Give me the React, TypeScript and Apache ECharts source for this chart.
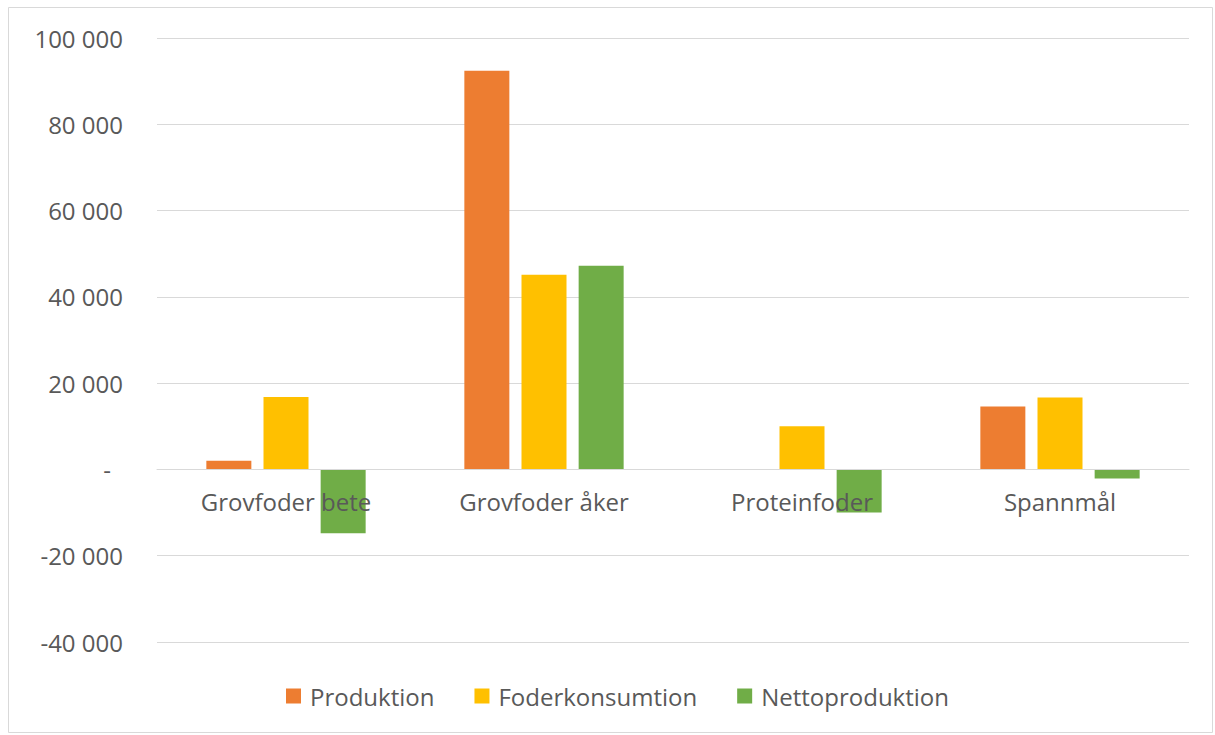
import React, { useEffect, useRef } from "react";
import * as echarts from "echarts";

const categories = ["Grovfoder bete", "Grovfoder åker", "Proteinfoder", "Spannmål"];
const produktion = [2000, 92400, 0, 14600];
const foderkonsumtion = [16800, 45100, 10000, 16700];
const nettoproduktion = [-14800, 47200, -10000, -2100];
const seriesNames = ["Produktion", "Foderkonsumtion", "Nettoproduktion"];
const colors = ["#ED7D31", "#FFC000", "#70AD47"];
const yMin = -40000;
const yMax = 100000;
const yStep = 20000;

const FONT = "Open Sans";
const TEXT = "#595959";
const GRID_TOP = 38;
const GRID_BOTTOM = 93;
const H = 735;

function fmt(v: number): string {
  if (v === 0) return "{z|-}";
  const s = Math.abs(v).toString().replace(/\B(?=(\d{3})+(?!\d))/g, " ");
  return (v < 0 ? "-" : "") + s;
}

export default function App() {
  const ref = useRef<HTMLDivElement>(null);
  useEffect(() => {
    if (!ref.current) return;
    const chart = echarts.init(ref.current, null, { renderer: "svg" });
    const data = [produktion, foderkonsumtion, nettoproduktion];
    const gridH = H - GRID_TOP - GRID_BOTTOM;
    const zeroOffset = -((0 - yMin) / (yMax - yMin)) * gridH;
    chart.setOption({
      animation: false,
      backgroundColor: "#ffffff",
      textStyle: { fontFamily: FONT },
      graphic: [
        {
          type: "rect",
          shape: { x: 8.5, y: 7.5, width: 1204, height: 725 },
          style: { fill: "none", stroke: "#d9d9d9", lineWidth: 1 },
          silent: true,
        },
      ],
      grid: { left: 157, right: 26, top: GRID_TOP, bottom: GRID_BOTTOM, containLabel: false },
      legend: {
        top: 684,
        left: 286,
        padding: 0,
        itemWidth: 15,
        itemHeight: 15,
        itemGap: 40,
        icon: "rect",
        textStyle: { fontFamily: FONT, fontSize: 24, color: TEXT, padding: [0, 0, 0, 4] },
        data: seriesNames,
      },
      xAxis: {
        type: "category",
        data: categories,
        position: "bottom",
        offset: zeroOffset,
        axisLine: { onZero: false, lineStyle: { color: "#d9d9d9", width: 1 } },
        axisTick: { show: false },
        axisLabel: { fontFamily: FONT, fontSize: 24, color: TEXT, margin: 20 },
        z: 5,
      },
      yAxis: {
        type: "value",
        min: yMin,
        max: yMax,
        interval: yStep,
        axisLine: { show: false },
        axisTick: { show: false },
        splitLine: { lineStyle: { color: "#d9d9d9", width: 1 } },
        axisLabel: {
          fontFamily: FONT,
          fontSize: 24,
          color: TEXT,
          margin: 34,
          formatter: (v: number) => fmt(v),
          rich: { z: { fontFamily: FONT, fontSize: 24, color: TEXT, padding: [0, 12, 0, 0] } },
        },
      },
      series: seriesNames.map((name, i) => ({
        name,
        type: "bar",
        data: data[i],
        barWidth: 45,
        barGap: "27%",
        itemStyle: { color: colors[i] },
        z: 3,
      })),
    });
    return () => chart.dispose();
  }, []);
  return (
    <div
      ref={ref}
      style={{ position: "fixed", left: 0, top: 0, width: 1215, height: 735 }}
    />
  );
}
